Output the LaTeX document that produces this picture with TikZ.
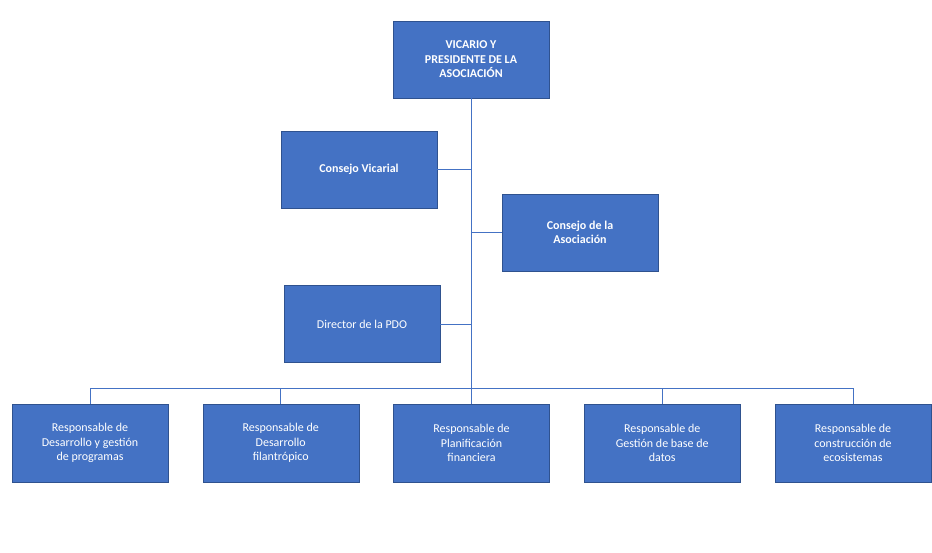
\documentclass[tikz,border=0pt]{standalone}
\usepackage{fontspec}
\setmainfont{Carlito}
\usepackage{tikz}
\definecolor{boxblue}{HTML}{4472C4}
\definecolor{boxedge}{HTML}{2F528F}

\begin{document}
\begin{tikzpicture}[x=1pt, y=-1pt,
	unit/.style={rectangle, draw=boxedge, fill=boxblue, text=white, minimum width=156pt, minimum height=77pt, align=center, font=\fontsize{12}{14.5}\selectfont},
	link/.style={draw=boxblue, line width=0.8pt}]
	\useasboundingbox (0,0) rectangle (932,553);
	\node[unit, font=\fontsize{12}{14.5}\selectfont\bfseries](vic) at (471,59.5){VICARIO Y\\PRESIDENTE DE LA\\ASOCIACIÓN};
	\node[unit, font=\fontsize{12}{14.5}\selectfont\bfseries](cv) at (359,169.5){Consejo Vicarial};
	\node[unit, font=\fontsize{12}{14.5}\selectfont\bfseries](ca) at (580,232.5){Consejo de la\\Asociación};
	\node[unit](dir) at (362,324){Director de la PDO};
	\foreach \lab [count=\c, evaluate=\c as \xx using {90 + 190.75*(\c-1)}] in {{Responsable de\\Desarrollo y gestión\\de programas}, {Responsable de\\Desarrollo\\filantrópico}, {Responsable de\\Planificación\\financiera}, {Responsable de\\Gestión de base de\\datos}, {Responsable de\\construcción de\\ecosistemas}}
	{
		\node[unit, minimum height=78pt](r\c) at (\xx,443){\lab};
	}
	\coordinate (bus) at (471,388);
	\draw[link](vic.south) -- (bus);
	\draw[link](cv.east) -- (cv.east -| vic.south);
	\draw[link](ca.west) -- (ca.west -| vic.south);
	\draw[link](dir.east) -- (dir.east -| vic.south);
	\draw[link](r1.north |- bus) -- (r5.north |- bus);
	\foreach \c in {1,...,5}
		\draw[link](r\c.north) -- (r\c.north |- bus);
\end{tikzpicture}
\end{document}
